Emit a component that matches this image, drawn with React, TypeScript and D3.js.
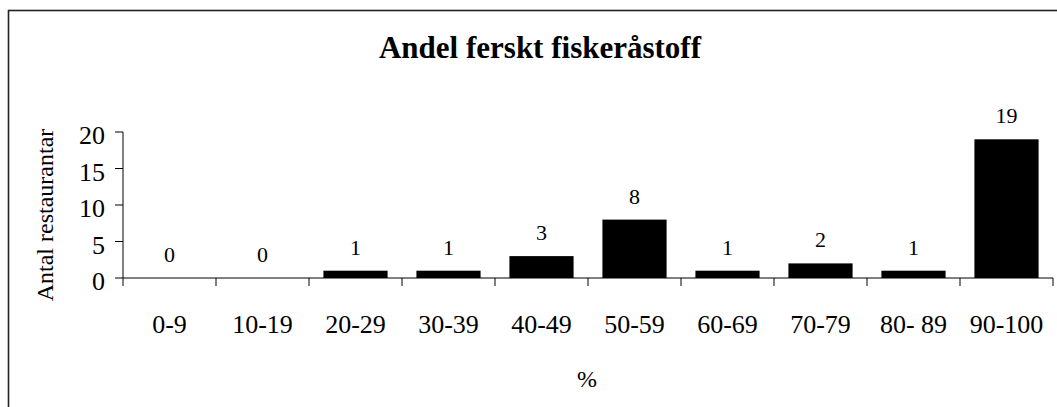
import React from "react";
import * as d3 from "d3";

const categories = ["0-9", "10-19", "20-29", "30-39", "40-49", "50-59", "60-69", "70-79", "80- 89", "90-100"];
const values = [0, 0, 1, 1, 3, 8, 1, 2, 1, 19];
const yTicks = [0, 5, 10, 15, 20];
const title = "Andel ferskt fiskeråstoff";
const yTitle = "Antal restaurantar";
const xTitle = "%";

const W = 1057;
const H = 407;
const FONT = "'Liberation Serif', 'Times New Roman', serif";

export default function App() {
  const x = d3.scaleBand<string>().domain(categories).range([123, 1053]).paddingInner(0.31).paddingOuter(0.155);
  const band = d3.scaleBand<string>().domain(categories).range([123, 1053]);
  const y = d3.scaleLinear().domain([0, 20]).range([278, 132]);
  const edges = categories.map((c) => band(c) as number).concat([1053]);

  return (
    <svg width={W} height={H} style={{ position: "absolute", left: 0, top: 0, background: "#fff" }} fontFamily={FONT}>
      <rect x={8.5} y={10.5} width={1200} height={600} fill="none" stroke="#222" strokeWidth={1.6} />
      <text x={540} y={58} textAnchor="middle" fontWeight="bold" fontSize={31}>{title}</text>
      {/* bars */}
      {values.map((v, i) => (
        <rect key={i} x={x(categories[i])} y={y(v)} width={x.bandwidth()} height={y(0) - y(v)} fill="#000" />
      ))}
      {/* value labels */}
      {values.map((v, i) => (
        <text key={"v" + i} x={(x(categories[i]) as number) + x.bandwidth() / 2} y={y(v) - 16} textAnchor="middle" fontSize={22}>{v}</text>
      ))}
      {/* y axis */}
      <line x1={123} x2={123} y1={y(20)} y2={y(0)} stroke="#000" strokeWidth={1} />
      {yTicks.map((t) => (
        <g key={"y" + t}>
          <line x1={115} x2={123} y1={y(t)} y2={y(t)} stroke="#000" />
          <text x={105} y={y(t) + 12} textAnchor="end" fontSize={26}>{t}</text>
        </g>
      ))}
      {/* x axis */}
      <line x1={123} x2={1053} y1={y(0)} y2={y(0)} stroke="#000" />
      {edges.map((e, i) => (
        <line key={"e" + i} x1={e} x2={e} y1={y(0)} y2={y(0) + 8} stroke="#000" />
      ))}
      {categories.map((c) => (
        <text key={"c" + c} x={(band(c) as number) + band.bandwidth() / 2} y={333} textAnchor="middle" fontSize={26}>{c}</text>
      ))}
      <text x={587} y={387} textAnchor="middle" fontSize={24}>{xTitle}</text>
      <text transform={`translate(53,215) rotate(-90)`} textAnchor="middle" fontSize={24}>{yTitle}</text>
    </svg>
  );
}
